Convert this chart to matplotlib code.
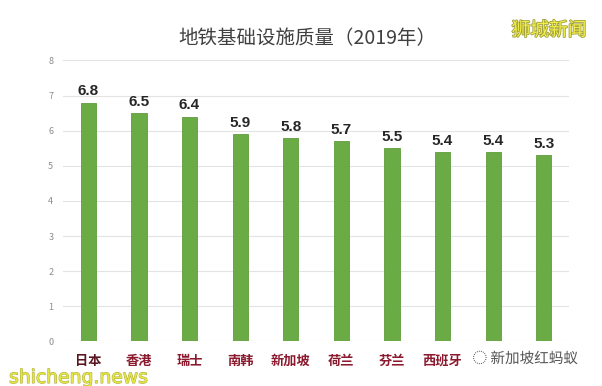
import matplotlib
matplotlib.use('Agg')
import matplotlib.pyplot as plt
import matplotlib.patheffects as pe

plt.rcParams['font.family'] = ['Noto Sans CJK SC', 'DejaVu Sans']

cities = ['日本', '香港', '瑞士', '南韩', '新加坡', '荷兰', '芬兰', '西班牙', '台湾', '法国']
scores = [6.8, 6.5, 6.4, 5.9, 5.8, 5.7, 5.5, 5.4, 5.4, 5.3]
yticks = [0, 1, 2, 3, 4, 5, 6, 7, 8]

fig = plt.figure(figsize=(6.02, 3.86), dpi=100)
ax = fig.add_axes([0.1047, 0.1153, 0.8405, 0.728])

x = range(len(cities))
ax.bar(x, scores, width=0.3, color='#6aab45', edgecolor='#5e9c3c', linewidth=0.6, zorder=3)

for i, v in zip(x, scores):
    ax.text(i, v + 0.12, f'{v}', ha='center', va='bottom', fontsize=11,
            fontweight='bold', color='#262626', family='Liberation Sans')

ax.set_xlim(-0.5, len(cities) - 0.5)
ax.set_ylim(0, 8)
ax.set_yticks(yticks)
ax.set_yticklabels([str(t) for t in yticks], fontsize=6.5, color='#8c8c8c')
ax.set_xticks(list(x))
ax.set_xticklabels(cities, fontsize=9.5, color='#8b1a2e', fontweight='bold')
ax.get_xticklabels()[0].set_color('#5a1520')
# the last two labels sit under the watermark in the original
for lbl in ax.get_xticklabels()[8:]:
    lbl.set_visible(False)
ax.tick_params(axis='both', length=0)
ax.tick_params(axis='x', pad=9)
ax.tick_params(axis='y', pad=7)
ax.grid(axis='y', color='#e3e3e3', linewidth=0.8, zorder=0)
for s in ax.spines.values():
    s.set_visible(False)

fig.text(0.51, 0.9, '地铁基础设施质量（2019年）', ha='center', va='center',
         fontsize=14, color='#404040', fontweight='medium')

# watermarks
fig.text(0.912, 0.922, '狮城新闻', ha='center', va='center', fontsize=13.5,
         color='#f2ee4a',
         path_effects=[pe.withStroke(linewidth=1.2, foreground='#a0a040')])
fig.text(0.015, 0.022, 'shicheng.news', ha='left', va='center', fontsize=13.5,
         color='#e6e640', family='DejaVu Sans',
         path_effects=[pe.withStroke(linewidth=0.8, foreground='#b0b048')])
fig.text(0.785, 0.07, '◌ 新加坡红蚂蚁', ha='left', va='center', fontsize=10.5,
         color='#555555',
         bbox=dict(facecolor='white', edgecolor='none', pad=2.5),
         path_effects=[pe.withStroke(linewidth=1.5, foreground='white')])

fig.savefig('out.png', dpi=100)
